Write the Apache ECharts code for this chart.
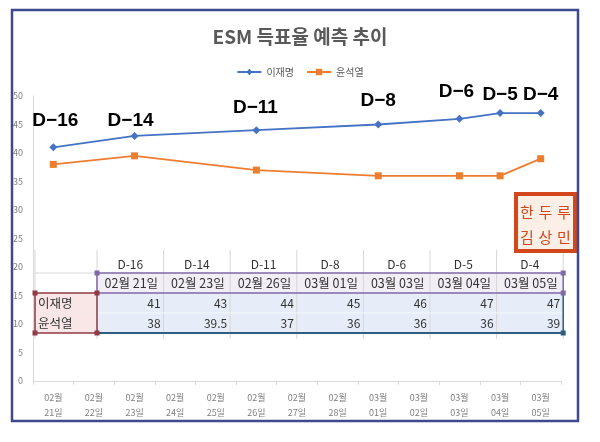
<!DOCTYPE html>
<html>
<head>
<meta charset="utf-8">
<script src="https://cdn.jsdelivr.net/npm/echarts@6/dist/echarts.min.js"></script>
<style>
html,body{margin:0;padding:0;background:#fff;}
#chart{width:600px;height:442px;}
</style>
</head>
<body>
<div id="chart"></div>
<script>
// ---- data ----
const categories = ['02월 21일','02월 22일','02월 23일','02월 24일','02월 25일','02월 26일','02월 27일','02월 28일','03월 01일','03월 02일','03월 03일','03월 04일','03월 05일'];
const leeValues  = [41, null, 43, null, null, 44, null, null, 45, null, 46, 47, 47];
const yoonValues = [38, null, 39.5, null, null, 37, null, null, 36, null, 36, 36, 39];
const dLabels    = ['D-16', null, 'D-14', null, null, 'D-11', null, null, 'D-8', null, 'D-6', 'D-5', 'D-4'];
const seriesNames = ['이재명', '윤석열'];
const yTicks = {min: 0, max: 50, interval: 5};
const titleText = 'ESM 득표율 예측 추이';
const stampLines = ['한두루', '김상민'];

// ---- styles (annotation offsets relative to the 이재명 point) ----
const dLabelOffsets = {0:[2,-27], 2:[-4,-15], 5:[-1,-22], 8:[0,-24], 10:[-3,-27], 11:[0,-18], 12:[0,-18]};
const FONT = '"Noto Sans CJK KR", "Noto Sans", sans-serif';

const chart = echarts.init(document.getElementById('chart'), null, {renderer: 'canvas'});

const leeData = leeValues.map((v, i) => {
  if (v == null) return null;
  const item = {value: v};
  if (dLabels[i]) {
    item.label = {
      show: true, position: 'inside',
      offset: dLabelOffsets[i] || [0, -20],
      formatter: dLabels[i].replace('-', '\u2212'),
      fontFamily: '"Liberation Sans", Arial, sans-serif',
      fontWeight: 'bold', fontSize: 19, color: '#000'
    };
  }
  return item;
});

// ---- table overlay (built from the data arrays) ----
const tableIdx = leeValues.map((v, i) => v != null ? i : -1).filter(i => i >= 0);
const T = {x0: 35, c0: 97, colW: 66.6, y0: 253, rowH: 20};
const xEnd = T.c0 + T.colW * tableIdx.length;
const g = [];
function rect(x, y, w, h, style, z) { g.push({type: 'rect', silent: true, z: z || 100, shape: {x, y, width: w, height: h}, style}); }
function line(x1, y1, x2, y2, stroke, lw, z) { g.push({type: 'line', silent: true, z: z || 101, shape: {x1, y1, x2, y2}, style: {stroke, lineWidth: lw}}); }
function text(x, y, t, align, size, color, z) {
  g.push({type: 'text', silent: true, z: z || 110, x, y,
    style: {text: t, align, verticalAlign: 'middle', fontSize: size, fontFamily: FONT, fill: color}});
}
// background
rect(T.x0, T.y0 - 3, xEnd - T.x0 + 2, T.rowH * 4 + 8, {fill: '#fff'});
rect(T.c0, T.y0 + T.rowH, xEnd - T.c0, T.rowH, {fill: '#f1eef6'});
rect(T.c0, T.y0 + 2 * T.rowH, xEnd - T.c0, 2 * T.rowH, {fill: '#e7edf8'});
rect(T.x0, T.y0 + 2 * T.rowH, T.c0 - T.x0, 2 * T.rowH, {fill: '#f9e6e6'});
// grid
for (let i = 0; i <= tableIdx.length; i++) {
  const x = T.c0 + i * T.colW;
  line(x, T.y0 - 3, x, T.y0 + 4 * T.rowH + 6, '#d6d6d6', 1);
}
line(T.x0, T.y0 - 3, T.x0, T.y0 + 4 * T.rowH + 6, '#d6d6d6', 1);
line(T.x0, T.y0 + T.rowH, T.c0, T.y0 + T.rowH, '#d9d9d9', 1);
line(T.c0, T.y0 + 3 * T.rowH, xEnd, T.y0 + 3 * T.rowH, '#f4f6fb', 1);
line(T.x0, T.y0 + 3 * T.rowH, T.c0, T.y0 + 3 * T.rowH, '#f4e9e9', 1);
// purple border (date row)
rect(T.c0, T.y0 + T.rowH, xEnd - T.c0, T.rowH, {fill: 'none', stroke: '#8068a8', lineWidth: 1.5}, 102);
// red border (names)
rect(T.x0, T.y0 + 2 * T.rowH, T.c0 - T.x0, 2 * T.rowH, {fill: 'none', stroke: '#8e3b46', lineWidth: 1.5}, 103);
// blue border (values)
line(T.c0, T.y0 + 4 * T.rowH, xEnd, T.y0 + 4 * T.rowH, '#2f5d80', 2, 102);
line(xEnd, T.y0 + 2 * T.rowH, xEnd, T.y0 + 4 * T.rowH, '#2f5d80', 1.5, 102);
// handles
function handle(x, y, c) { rect(x - 2.5, y - 2.5, 5, 5, {fill: c}, 104); }
handle(T.c0, T.y0 + T.rowH, '#8068a8');
handle(xEnd, T.y0 + T.rowH, '#8068a8');
handle(xEnd, T.y0 + 2 * T.rowH, '#8068a8');
handle(T.x0, T.y0 + 2 * T.rowH, '#8e3b46');
handle(T.c0, T.y0 + 2 * T.rowH, '#8e3b46');
handle(T.x0, T.y0 + 4 * T.rowH, '#8e3b46');
handle(T.c0, T.y0 + 4 * T.rowH, '#8e3b46');
handle(xEnd, T.y0 + 4 * T.rowH, '#2f5d80');
// texts
tableIdx.forEach((idx, j) => {
  const cx = T.c0 + j * T.colW + T.colW / 2;
  const rx = T.c0 + (j + 1) * T.colW - 3;
  text(cx, T.y0 + T.rowH * 0.5 + 1, dLabels[idx], 'center', 12, '#333');
  text(cx + 1, T.y0 + T.rowH * 1.5, categories[idx], 'center', 12.5, '#333');
  text(rx, T.y0 + T.rowH * 2.5, String(leeValues[idx]), 'right', 12, '#333');
  text(rx, T.y0 + T.rowH * 3.5, String(yoonValues[idx]), 'right', 12, '#333');
});
text(T.x0 + 3, T.y0 + T.rowH * 2.5, seriesNames[0], 'left', 12.5, '#333');
text(T.x0 + 3, T.y0 + T.rowH * 3.5, seriesNames[1], 'left', 12.5, '#333');

// stamp
rect(516, 194, 59, 57, {fill: '#fbefe6', stroke: '#d2471c', lineWidth: 4}, 120);
stampLines.forEach((s, k) => {
  s.split('').forEach((ch, m) => {
    g.push({type: 'text', silent: true, z: 121, x: 527 + m * 18.5, y: 212 + k * 25,
      style: {text: ch, align: 'center', verticalAlign: 'middle', fontSize: 15,
        fontFamily: '"Noto Sans CJK KR", sans-serif', fill: '#d2471c'}});
  });
});
// outer frame
rect(12, 10, 566, 411, {fill: 'none', stroke: '#3e4a8c', lineWidth: 2.5}, 130);

const option = {
  backgroundColor: '#fff',
  animation: false,
  title: {
    text: titleText, left: 'center', top: 22,
    textStyle: {fontFamily: FONT, fontSize: 19, fontWeight: 'bold', color: '#595959'}
  },
  legend: {
    top: 62, left: 'center', itemWidth: 24, itemHeight: 8, itemGap: 12,
    textStyle: {fontFamily: FONT, fontSize: 10, color: '#595959'},
    data: seriesNames
  },
  grid: {left: 33, right: 39, top: 96, bottom: 61, containLabel: false},
  xAxis: {
    type: 'category', data: categories, boundaryGap: true,
    axisLine: {lineStyle: {color: '#d9d9d9'}},
    axisTick: {show: true, length: 4, lineStyle: {color: '#d9d9d9'}},
    axisLabel: {interval: 0, margin: 9, fontSize: 9, color: '#808080', fontFamily: FONT, lineHeight: 15,
      formatter: v => v.replace(' ', '\n')}
  },
  yAxis: {
    type: 'value', min: yTicks.min, max: yTicks.max, interval: yTicks.interval,
    axisLine: {show: true, lineStyle: {color: '#d9d9d9'}},
    axisTick: {show: false},
    splitLine: {show: false},
    axisLabel: {fontSize: 9, color: '#808080', margin: 10, fontFamily: FONT}
  },
  series: [
    {
      name: seriesNames[0], type: 'line', data: leeData, connectNulls: true,
      symbol: 'diamond', symbolSize: 8,
      lineStyle: {color: '#4472c4', width: 1.8}, itemStyle: {color: '#4472c4'},
      z: 3
    },
    {
      name: seriesNames[1], type: 'line', data: yoonValues, connectNulls: true,
      symbol: 'rect', symbolSize: 7,
      lineStyle: {color: '#ed7d31', width: 1.8}, itemStyle: {color: '#ed7d31'},
      z: 2
    }
  ],
  graphic: {elements: g}
};
chart.setOption(option);
</script>
</body>
</html>
